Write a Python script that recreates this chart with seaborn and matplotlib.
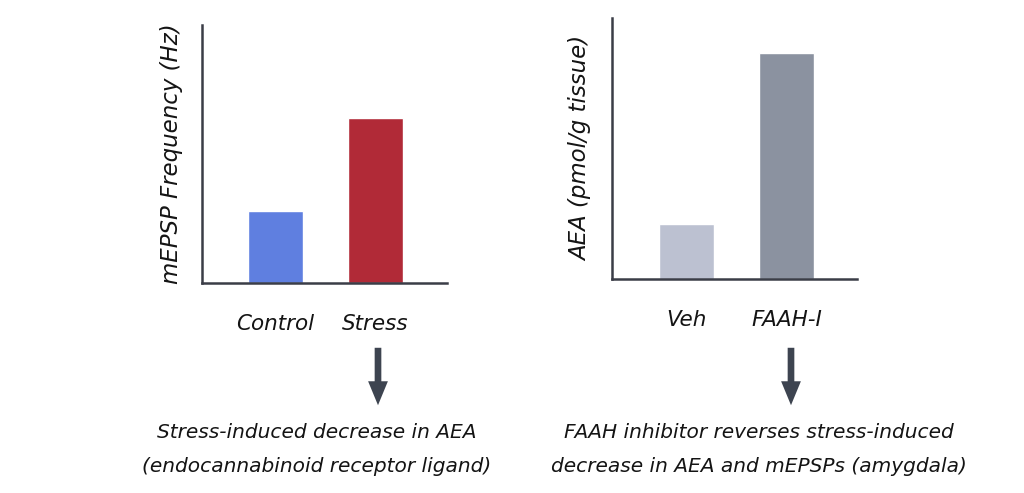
import numpy as np
import pandas as pd
import matplotlib
matplotlib.use('Agg')
import matplotlib.pyplot as plt
import seaborn as sns

# data
left_groups = ['Control', 'Stress']
left_values = [2.8, 6.4]
left_colors = ['#5f7fe0', '#b12a37']
left_ylabel = 'mEPSP Frequency (Hz)'

right_groups = ['Veh', 'FAAH-I']
right_values = [2.1, 8.65]
right_colors = ['#bcc1d1', '#8b92a0']
right_ylabel = 'AEA (pmol/g tissue)'

left_note = 'Stress-induced decrease in AEA\n(endocannabinoid receptor ligand)'
right_note = 'FAAH inhibitor reverses stress-induced\ndecrease in AEA and mEPSPs (amygdala)'

AXIS_COLOR = '#3a3d47'
ARROW_COLOR = '#3d4450'
TEXT_COLOR = '#141414'

sns.set_theme(style='white')
plt.rcParams['font.family'] = ['DejaVu Sans']
plt.rcParams['font.style'] = 'oblique'

W, H = 1024, 493
fig = plt.figure(figsize=(W / 100, H / 100), dpi=100)


def px_box(x0, y0, x1, y1):
    return [x0 / W, 1 - y1 / H, (x1 - x0) / W, (y1 - y0) / H]


def draw_panel(ax, groups, values, colors, ylabel, xlim):
    df = pd.DataFrame({'group': groups, 'value': values})
    sns.barplot(data=df, x='group', y='value', hue='group', palette=colors,
                width=0.55, legend=False, ax=ax, saturation=1)
    ax.set_ylim(0, 10)
    ax.set_xlim(*xlim)
    ax.set_yticks([])
    ax.set_xlabel('')
    ax.set_ylabel(ylabel, fontsize=16.5, color=TEXT_COLOR, labelpad=14)
    ax.tick_params(axis='x', length=0, pad=22, labelsize=15.5, labelcolor=TEXT_COLOR)
    for side in ['top', 'right']:
        ax.spines[side].set_visible(False)
    for side in ['left', 'bottom']:
        ax.spines[side].set_color(AXIS_COLOR)
        ax.spines[side].set_linewidth(1.8)


ax1 = fig.add_axes(px_box(202, 25, 447, 283))
draw_panel(ax1, left_groups, left_values, left_colors, left_ylabel, (-0.735, 1.715))

ax2 = fig.add_axes(px_box(612, 18, 857, 279))
draw_panel(ax2, right_groups, right_values, right_colors, right_ylabel, (-0.745, 1.705))

# arrows pointing to the notes
for x in [378, 791]:
    fig.patches.append(matplotlib.patches.FancyArrowPatch(
        (x / W, 1 - 345 / H), (x / W, 1 - 408 / H), transform=fig.transFigure,
        arrowstyle='simple,head_length=1.15,head_width=0.95,tail_width=0.32',
        mutation_scale=15, color=ARROW_COLOR, lw=0))

fig.text(317 / W, 1 - 450 / H, left_note, ha='center', va='center',
         fontsize=14.5, color=TEXT_COLOR, linespacing=2.0)
fig.text(759 / W, 1 - 450 / H, right_note, ha='center', va='center',
         fontsize=14.5, color=TEXT_COLOR, linespacing=2.0)

fig.savefig('out.png', dpi=100, facecolor='white')
